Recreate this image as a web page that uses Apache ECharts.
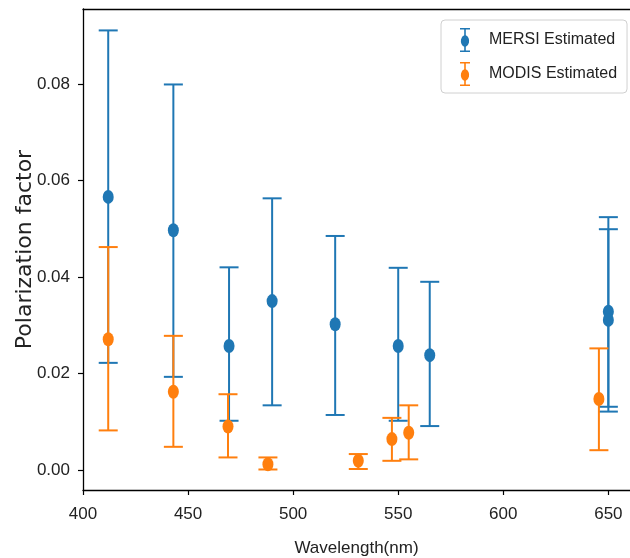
<!DOCTYPE html>
<html><head><meta charset="utf-8">
<script src="https://cdn.jsdelivr.net/npm/echarts@6/dist/echarts.min.js"></script>
<style>html,body{margin:0;padding:0;background:#fff}#c{width:630px;height:558px}</style>
</head><body><div id="c"></div>
<script>
// MERSI Estimated: wavelength, value, lower, upper
const mersiX  = [412, 443, 469.5, 490, 520, 550, 565, 650, 650];
const mersiY  = [0.0566, 0.0497, 0.0257, 0.0350, 0.0302, 0.0257, 0.0238, 0.0328, 0.0311];
const mersiLo = [0.0222, 0.0193, 0.0102, 0.0134, 0.0114, 0.0102, 0.0091, 0.0131, 0.0121];
const mersiHi = [0.0911, 0.0799, 0.0420, 0.0563, 0.0485, 0.0419, 0.0390, 0.0524, 0.0499];
// MODIS Estimated
const modisX  = [412, 443, 469, 488, 531, 547, 555, 645.5];
const modisY  = [0.0271, 0.0162, 0.0090, 0.0012, 0.0019, 0.0064, 0.0077, 0.0147];
const modisLo = [0.0082, 0.0048, 0.0026, 0.0001, 0.0002, 0.0019, 0.0022, 0.0041];
const modisHi = [0.0462, 0.0278, 0.0157, 0.0026, 0.0033, 0.0108, 0.0134, 0.0252];
const xTicks = [400, 450, 500, 550, 600, 650];
const yTicks = [0, 0.02, 0.04, 0.06, 0.08];

const BLUE = '#1f77b4', ORANGE = '#ff7f0e';
const FONT = "'Liberation Sans', Arial, sans-serif";
const legendIcon = 'path://M0,0H10V1.6H5.8V7.2A4.5,6 0 0 1 5.8,18.8V22.4H10V24H0V22.4H4.2V18.8A4.5,6 0 0 1 4.2,7.2V1.6H0Z';

function errData(xs, ys, lo, hi) { return xs.map((x, i) => [x, ys[i], lo[i], hi[i]]); }
function errSeries(name, color, data) {
  return {
    type: 'custom', name: name, data: data, z: 2,
    itemStyle: { color: color },
    encode: { x: 0, y: [2, 3] },
    renderItem: function (params, api) {
      const x = api.value(0);
      const lo = api.coord([x, api.value(2)]);
      const hi = api.coord([x, api.value(3)]);
      const hw = 9.5;
      const st = { stroke: color, lineWidth: 2 };
      return { type: 'group', children: [
        { type: 'line', shape: { x1: lo[0], y1: lo[1], x2: hi[0], y2: hi[1] }, style: st },
        { type: 'line', shape: { x1: lo[0] - hw, y1: lo[1], x2: lo[0] + hw, y2: lo[1] }, style: st },
        { type: 'line', shape: { x1: hi[0] - hw, y1: hi[1], x2: hi[0] + hw, y2: hi[1] }, style: st }
      ]};
    }
  };
}
function ptSeries(name, color, xs, ys) {
  return { type: 'scatter', name: name, z: 3, symbol: 'circle', symbolSize: [11, 14],
    itemStyle: { color: color, opacity: 1 }, data: xs.map((x, i) => [x, ys[i]]) };
}

const chart = echarts.init(document.getElementById('c'), null, { renderer: 'canvas' });
chart.setOption({
  animation: false,
  backgroundColor: '#fff',
  grid: { left: 83, right: 0, top: 9, bottom: 68, containLabel: false, outerBoundsMode: 'none' },
  legend: {
    left: 441, top: 20, orient: 'vertical',
    padding: [8, 10, 7, 19], itemGap: 10, itemWidth: 10, itemHeight: 24,
    borderColor: '#d0d0d0', borderWidth: 1, borderRadius: 4, backgroundColor: '#fff',
    textStyle: { fontFamily: FONT, fontSize: 16, color: '#222', padding: [0, 0, 0, 14] },
    data: [
      { name: 'MERSI Estimated', icon: legendIcon, itemStyle: { color: BLUE } },
      { name: 'MODIS Estimated', icon: legendIcon, itemStyle: { color: ORANGE } }
    ]
  },
  xAxis: [{
    type: 'value', min: 400, max: 660.3, position: 'bottom',
    name: 'Wavelength(nm)', nameLocation: 'middle', nameGap: 50, nameMoveOverlap: false,
    nameTextStyle: { fontFamily: FONT, fontSize: 17, color: '#222' },
    splitLine: { show: false },
    axisLine: { show: true, onZero: false, lineStyle: { color: '#000', width: 1.3 } },
    axisTick: { show: true, length: 5, customValues: xTicks, lineStyle: { color: '#000', width: 1.2 } },
    axisLabel: { customValues: xTicks, margin: 16, fontFamily: FONT, fontSize: 17, color: '#222' }
  }, {
    type: 'value', min: 400, max: 660.3, position: 'top',
    splitLine: { show: false }, axisTick: { show: false }, axisLabel: { show: false },
    axisLine: { show: true, onZero: false, lineStyle: { color: '#000', width: 1.3 } }
  }],
  yAxis: {
    type: 'value', min: -0.00415, max: 0.09554,
    name: 'Polarization factor', nameLocation: 'middle', nameGap: 47, nameRotate: 90, nameMoveOverlap: false,
    nameTextStyle: { fontFamily: "'DejaVu Sans', sans-serif", fontSize: 22, color: '#222' },
    splitLine: { show: false },
    axisLine: { show: true, onZero: false, lineStyle: { color: '#000', width: 1.3 } },
    axisTick: { show: true, length: 5, customValues: yTicks, lineStyle: { color: '#000', width: 1.2 } },
    axisLabel: { customValues: yTicks, margin: 13, fontFamily: FONT, fontSize: 17, color: '#222',
      formatter: v => v.toFixed(2) }
  },
  series: [
    errSeries('MERSI Estimated', BLUE, errData(mersiX, mersiY, mersiLo, mersiHi)),
    errSeries('MODIS Estimated', ORANGE, errData(modisX, modisY, modisLo, modisHi)),
    ptSeries('MERSI Estimated', BLUE, mersiX, mersiY),
    ptSeries('MODIS Estimated', ORANGE, modisX, modisY)
  ]
});
</script></body></html>
